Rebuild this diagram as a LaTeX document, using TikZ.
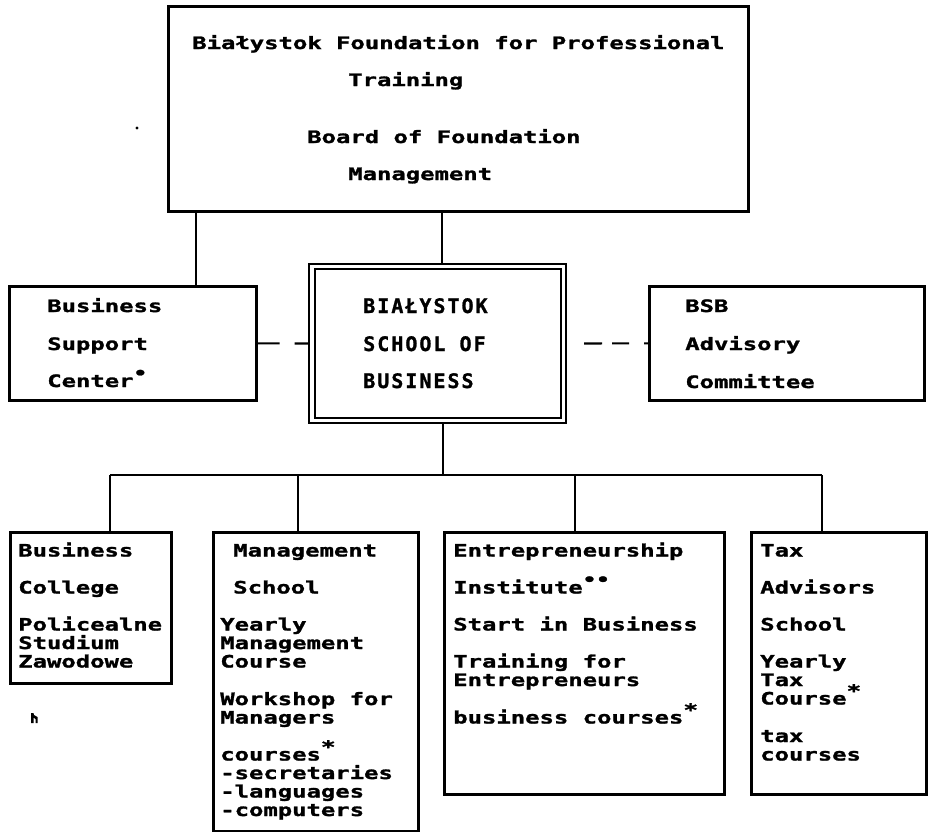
\documentclass[tikz,border=0pt]{standalone}
\usepackage{fontspec}
\newfontfamily\dm[FakeStretch=1.4, BoldFeatures={FakeBold=1.5}]{DejaVu Sans Mono}
\newfontfamily\dmc[LetterSpace=10, BoldFeatures={FakeBold=1.2}]{DejaVu Sans Mono}
\newcommand\supdot{\raisebox{0.9ex}{\fontsize{12pt}{12pt}\selectfont\char"2022}}
\newcommand\supast{\raisebox{0.8ex}{\fontsize{13pt}{13pt}\selectfont *}}
\tikzset{
  box/.style={draw, line width=2pt, anchor=north west, inner sep=0pt, rectangle},
  thin box/.style={draw, line width=1.5pt, anchor=north west, inner sep=0pt, rectangle},
  tx/.style={anchor=base west, inner sep=0pt, font=\dm\bfseries\fontsize{12.8pt}{14pt}\selectfont},
  txc/.style={anchor=base west, inner sep=0pt, font=\dmc\bfseries\fontsize{15pt}{16pt}\selectfont},
  conn/.style={line width=1.6pt},
}
\newcommand\tl[4]{\node[tx] (#1) at (#2,#3) {#4};}
\begin{document}
\begin{tikzpicture}[x=0.75pt,y=-0.75pt]
\useasboundingbox (0,0) rectangle (933,832);
% boxes
\node[box, minimum width=435pt, minimum height=153.75pt] (top) at (167,5) {};
\node[box, minimum width=185.25pt, minimum height=85.5pt] (bsc) at (8,285) {};
\node[thin box, minimum width=192.75pt, minimum height=119.25pt] (bsbo) at (308,263) {};
\node[thin box, minimum width=184.5pt, minimum height=111.75pt] (bsbi) at (314,268) {};
\node[box, minimum width=206.25pt, minimum height=85.5pt] (adv) at (648,285) {};
\node[box, minimum width=120.75pt, minimum height=113.25pt] (bc) at (9,531) {};
\node[box, minimum width=153.75pt, minimum height=224.25pt] (ms) at (212,531) {};
\node[box, minimum width=210pt, minimum height=196.5pt] (ei) at (443,531) {};
\node[box, minimum width=131.25pt, minimum height=196.5pt] (ta) at (750,531) {};
% connector coordinates
\coordinate (j1) at (196,0);
\coordinate (j2) at (442,0);
\coordinate (j3) at (443,0);
\coordinate (busL) at (110,475);
\coordinate (busR) at (822,475);
\coordinate (b2) at (298,475);
\coordinate (b3) at (575,475);
% connectors
\draw[conn] (j1 |- top.south) -- (j1 |- bsc.north);
\draw[conn] (j2 |- top.south) -- (j2 |- bsbo.north);
\draw[conn] (j3 |- bsbo.south) -- (j3 |- busL);
\draw[conn] (busL) -- (busR);
\draw[conn] (busL) -- (busL |- bc.north);
\draw[conn] (b2) -- (b2 |- ms.north);
\draw[conn] (b3) -- (b3 |- ei.north);
\draw[conn] (busR) -- (busR |- ta.north);
\draw[conn, dash pattern=on 16.5pt off 11.25pt on 12pt off 20pt] (bsc.east) -- (bsbo.west);
\draw[conn, dash pattern=on 0pt off 12.75pt on 13.5pt off 7.5pt on 12.75pt off 11.25pt on 4.5pt off 20pt] (bsbo.east) -- (adv.west);
% stray marks
\fill (137,128) circle (1.6);
\fill (31,713) -- (31,723) -- (33.5,723) -- (33.5,717.5) -- (35.5,719) -- (35.5,723) -- (37.5,723) -- (37.5,717) -- (34,715) -- (33.5,713) -- cycle;
% top texts
\tl{t1}{192}{49}{Białystok Foundation for Professional}
\tl{t2}{348}{86}{Training}
\tl{t3}{307}{143}{Board of Foundation}
\tl{t4}{348}{180}{Management}
% business support center
\tl{s1}{47}{312}{Business}
\tl{s2}{47}{350}{Support}
\tl{s3}{47}{387}{Center\supdot}
% BSB
\node[txc] (c1) at (363,313) {BIAŁYSTOK};
\node[txc] (c2) at (363,351) {SCHOOL OF};
\node[txc] (c3) at (363,388) {BUSINESS};
% advisory
\tl{a1}{685}{312}{BSB}
\tl{a2}{685}{350}{Advisory}
\tl{a3}{685}{388}{Committee}
% business college
\tl{bc1}{18}{556.5}{Business}
\tl{bc2}{18}{593.5}{College}
\tl{bc3}{18}{630.5}{Policealne}
\tl{bc4}{18}{649}{Studium}
\tl{bc5}{18}{667.5}{Zawodowe}
% management school
\tl{m1}{233}{556.5}{Management}
\tl{m2}{233}{593.5}{School}
\tl{m3}{220}{630.5}{Yearly}
\tl{m4}{220}{649}{Management}
\tl{m5}{220}{667.5}{Course}
\tl{m6}{220}{705}{Workshop for}
\tl{m7}{220}{723.5}{Managers}
\tl{m8}{220}{760.5}{courses\supast}
\tl{m9}{220}{779}{-secretaries}
\tl{m10}{220}{797.5}{-languages}
\tl{m11}{220}{816}{-computers}
% entrepreneurship
\tl{e1}{453}{556.5}{Entrepreneurship}
\tl{e2}{453}{593.5}{Institute\supdot\supdot}
\tl{e3}{453}{630.5}{Start in Business}
\tl{e4}{453}{667.5}{Training for}
\tl{e5}{453}{686}{Entrepreneurs}
\tl{e6}{453}{723.5}{business courses\supast}
% tax
\tl{x1}{760}{556.5}{Tax}
\tl{x2}{760}{593.5}{Advisors}
\tl{x3}{760}{630.5}{School}
\tl{x4}{760}{667.5}{Yearly}
\tl{x5}{760}{686}{Tax}
\tl{x6}{760}{704.5}{Course\supast}
\tl{x7}{760}{742}{tax}
\tl{x8}{760}{760.5}{courses}
\end{tikzpicture}
\end{document}
